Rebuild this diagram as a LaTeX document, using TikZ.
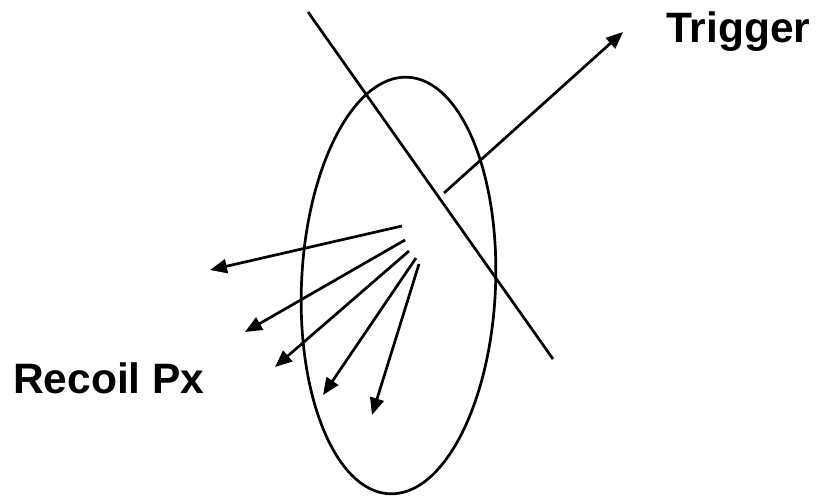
\documentclass[tikz,border=0pt]{standalone}
\usepackage{fontspec}
\setmainfont{Liberation Sans}
\usetikzlibrary{arrows.meta,shapes.geometric}
\tikzset{
  stroke/.style={line width=2.7pt, line cap=butt},
  arr/.style={stroke, -{Triangle[length=17pt,width=14pt]}},
  lbl/.style={font=\fontsize{42.5}{42.5}\selectfont\bfseries, anchor=base west, inner sep=0pt}
}
\begin{document}
\begin{tikzpicture}[x=1pt,y=-1pt]
\useasboundingbox (0,0) rectangle (818,496);
% target disc
\node[draw, stroke, ellipse, minimum width=194pt, minimum height=417pt, inner sep=0pt, rotate=-2.5] (disc) at (398.5,285.5) {};
% beam line
\coordinate (b1) at (308,12);
\coordinate (b2) at (553,359);
\draw[stroke] (b1) -- (b2);
% trigger
\coordinate (t0) at (444,193);
\coordinate (t1) at (623,32);
\draw[arr] (t0) -- (t1);
\node[lbl] (trig) at (666,42) {Trigger};
% recoil
\coordinate (r1a) at (402,226); \coordinate (r1b) at (210,270);
\coordinate (r2a) at (405,240); \coordinate (r2b) at (245,332);
\coordinate (r3a) at (409,251); \coordinate (r3b) at (275,367);
\coordinate (r4a) at (416,258); \coordinate (r4b) at (323,395);
\coordinate (r5a) at (419,264); \coordinate (r5b) at (372,415);
\draw[arr] (r1a) -- (r1b);
\draw[arr] (r2a) -- (r2b);
\draw[arr] (r3a) -- (r3b);
\draw[arr] (r4a) -- (r4b);
\draw[arr] (r5a) -- (r5b);
\node[lbl] (rec) at (13,393) {Recoil Px};
\end{tikzpicture}
\end{document}
